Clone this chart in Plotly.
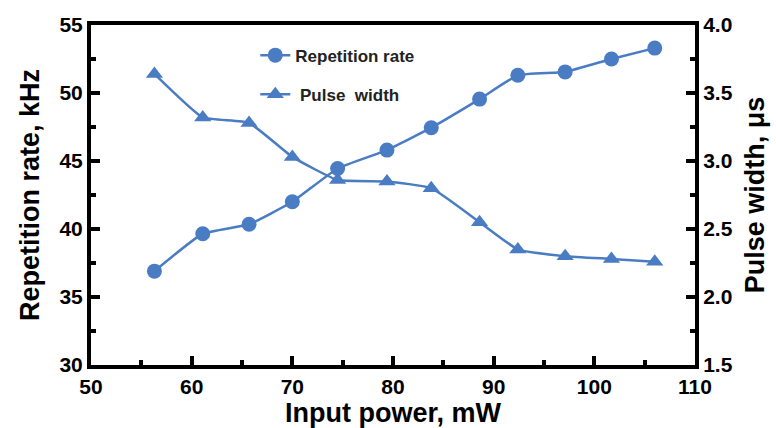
import plotly.graph_objects as go

power_mw = [56.3, 61.1, 65.7, 70.0, 74.5, 79.4, 83.8, 88.6, 92.4, 97.1, 101.7, 106.0]
rep_rate_khz = [36.9, 39.65, 40.35, 42.0, 44.45, 45.8, 47.45, 49.55, 51.3, 51.55, 52.5, 53.3]
pulse_width_us = [3.64, 3.32, 3.28, 3.03, 2.86, 2.85, 2.80, 2.55, 2.35, 2.30, 2.28, 2.26]

x_ticks = [50, 60, 70, 80, 90, 100, 110]
y1_ticks = [30, 35, 40, 45, 50, 55]
y2_ticks = [1.5, 2.0, 2.5, 3.0, 3.5, 4.0]
y2_labels = ["1.5", "2.0", "2.5", "3.0", "3.5", "4.0"]

color = "#4a7cc4"
FONT = "Liberation Sans"
tick_font = dict(family=FONT, size=21, color="black", weight=700)
title_font = dict(family=FONT, size=27, color="black", weight=700)

def bold(labels):
    return [f"<b>{l}</b>" for l in labels]

fig = go.Figure()
fig.add_trace(go.Scatter(
    x=power_mw, y=rep_rate_khz, name="Repetition rate",
    mode="lines+markers", line=dict(color=color, width=2.5, shape="spline", smoothing=0.4),
    marker=dict(symbol="circle", size=15, color=color),
    legendgroup="a", yaxis="y"))
fig.add_trace(go.Scatter(
    x=power_mw, y=pulse_width_us, name=" Pulse  width",
    mode="lines+markers", line=dict(color=color, width=2.5, shape="spline", smoothing=0.4),
    marker=dict(symbol="triangle-up", size=15, color=color),
    legendgroup="b", yaxis="y2"))

def axis(**kw):
    d = dict(
        showline=True, linecolor="black", linewidth=4,
        ticks="inside", ticklen=9, tickwidth=4, tickcolor="black",
        showgrid=False, zeroline=False, tickfont=tick_font, automargin=False,
    )
    d.update(kw)
    return d

minor = lambda dt: dict(ticks="inside", ticklen=5, tickwidth=4, tickcolor="black", dtick=dt)

fig.update_layout(
    width=776, height=428,
    margin=dict(l=91, r=81, t=25, b=63),
    paper_bgcolor="white", plot_bgcolor="white",
    font=dict(family=FONT, color="black"),
    showlegend=True,
    legend=dict(x=0.272, y=0.963, xanchor="left", yanchor="top",
                bgcolor="rgba(0,0,0,0)", traceorder="grouped", tracegroupgap=14,
                font=dict(family=FONT, size=17, color="#222", weight=700)),
    xaxis=axis(range=[50, 110], tickvals=x_ticks, ticktext=bold(x_ticks), mirror=True, minor=minor(5),
               title=dict(text="Input power, mW", font=title_font, standoff=6)),
    yaxis=axis(range=[30, 55], tickvals=y1_ticks, ticktext=bold(y1_ticks), minor=minor(2.5),
               title=dict(text="Repetition rate, kHz", font=title_font, standoff=13)),
    yaxis2=axis(range=[1.5, 4.0], tickvals=y2_ticks, ticktext=bold(y2_labels),
                overlaying="y", side="right", minor=minor(0.25),
                title=dict(text="Pulse width, μs", font=title_font, standoff=14)),
)

fig.write_html("out.html")
